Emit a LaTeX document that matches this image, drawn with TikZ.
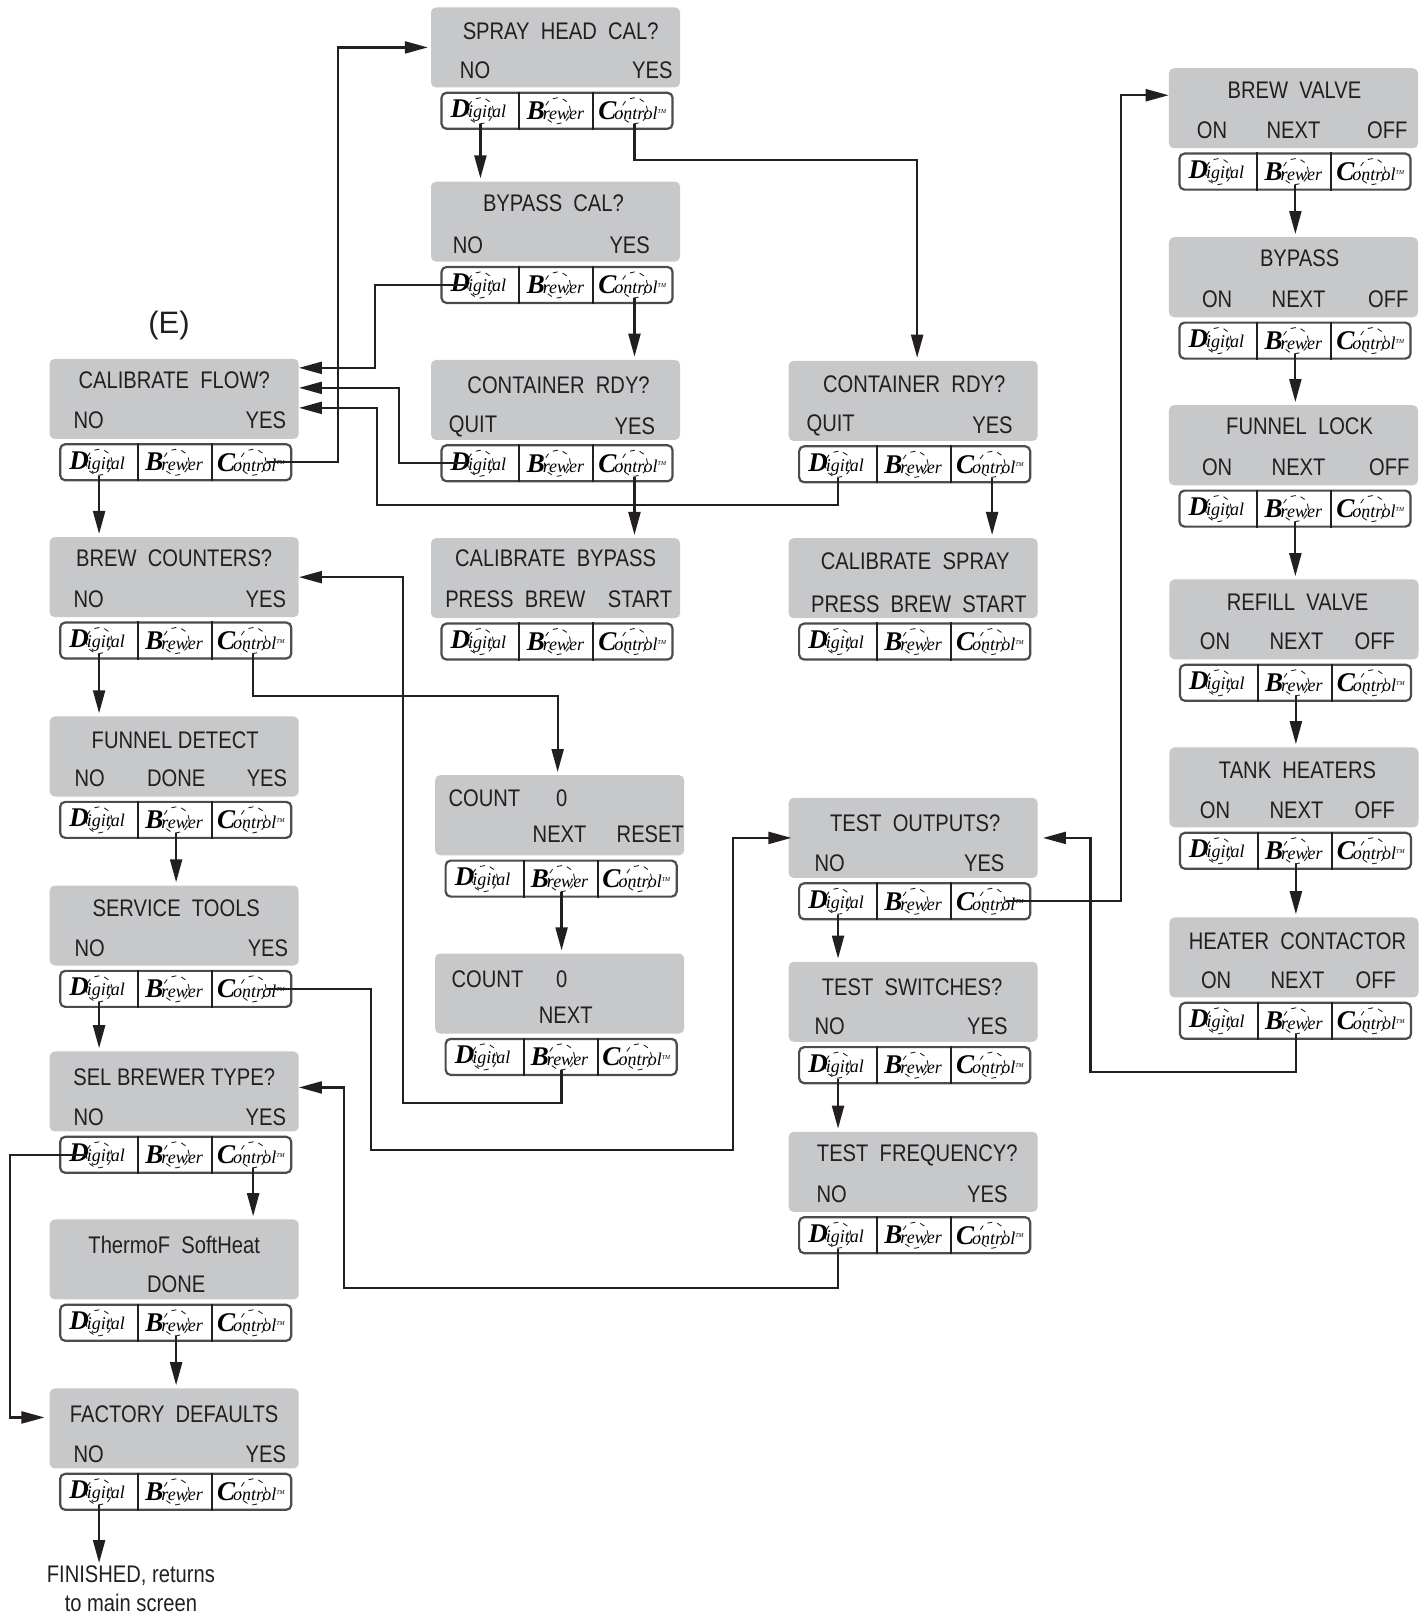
\documentclass[tikz,border=0pt]{standalone}
\usepackage{fontspec}
\usetikzlibrary{arrows.meta}
\setmainfont{Liberation Sans}
\newfontfamily\lcdfont[FakeStretch=0.84]{Liberation Sans}
\newfontfamily\logofont{Liberation Serif}
\definecolor{lcdgrey}{HTML}{C7C8CA}
\definecolor{inkgrey}{HTML}{231F20}
\newcommand{\logotext}[2]{\makebox[0pt]{\raisebox{-2pt}{\logofont\itshape{\fontsize{27}{27}\selectfont\bfseries #1}\kern-2pt{\fontsize{18}{18}\selectfont #2}\kern4pt}}}
\tikzset{
  lcd/.style={fill=lcdgrey,rounded corners=5pt,minimum width=249pt,minimum height=80pt,anchor=north west,inner sep=0pt},
  pad/.style={draw=black!70,line width=2.2pt,rounded corners=5pt,fill=white,minimum width=231pt,minimum height=36pt,inner sep=0pt},
  padline/.style={draw=inkgrey,line width=2pt},
  button/.style={circle,draw=inkgrey,line width=.9pt,dash pattern=on 5pt off 5pt,minimum size=26pt,inner sep=0pt},
  lcdtext/.style={text=inkgrey,font=\lcdfont\fontsize{24}{24}\selectfont,inner sep=0pt},
  flow/.style={draw=inkgrey,line width=2.2pt,-{Triangle[length=23pt,width=12pt]},shorten >=3pt},
  sideflow/.style={flow,shorten >=0pt}
}
\begin{document}
\begin{tikzpicture}[x=1.0303pt,y=-1.0303pt]
\useasboundingbox (0,0) rectangle (1384,1568);

% panels
\foreach \nm/\x/\y in {spray/418/7,bypass/418/176,contone/418/349,calbypass/418/522,
  calflow/48/348,counters/48/521,funnel/48/695,tools/48/859,brewer/48/1020,thermo/48/1183,factory/48/1347,
  conttwo/765/350,calspray/765/522,countone/422/752,counttwo/422/925,
  outputs/765/774,switches/765/933,freq/765/1098,
  brewvalve/1134/66,bypassout/1134/230,funnellock/1134/393,refill/1134.5/562,heaters/1134.5/725,contactor/1134.5/890} {
\node[lcd] (\nm) at (\x,\y) {};
\node[pad] (\nm-pad) at (\x+122.5,\y+100.5) {};
\draw[padline] ([xshift=79pt]\nm-pad.north west) -- ([xshift=79pt]\nm-pad.south west);
\draw[padline] ([xshift=153pt]\nm-pad.north west) -- ([xshift=153pt]\nm-pad.south west);
\node[button] (\nm-d) at ([xshift=40pt]\nm-pad.west) {\logotext{D}{igital}};
\node[button] (\nm-b) at ([xshift=117pt]\nm-pad.west) {\logotext{B}{rewer}};
\node[button] (\nm-c) at ([xshift=194pt]\nm-pad.west) {\logotext{C}{ontrol\textsuperscript{\fontsize{6}{6}\selectfont TM}}};
}

% display text
\foreach \nm/\x/\y/\txt in {
  spray-t/544/30/SPRAY\ \ HEAD\ \ CAL?,spray-n/461/68/NO,spray-y/633/68/YES,
  bypass-t/537/197/BYPASS\ \ CAL?,bypass-n/454/238/NO,bypass-y/611/238/YES,
  contone-t/542/374/CONTAINER\ \ RDY?,contone-n/459/414/QUIT,contone-y/616/414/YES,
  calbypass-t/539/542/CALIBRATE\ \ BYPASS,calbypass-n/500/581/PRESS\ \ BREW,calbypass-y/621/581/START,
  calflow-t/169/369/CALIBRATE\ \ FLOW?,calflow-n/86/408/NO,calflow-y/258/408/YES,
  counters-t/169/542/BREW\ \ COUNTERS?,counters-n/86/581/NO,counters-y/258/581/YES,
  funnel-t/170/718/FUNNEL DETECT,funnel-n/87/755/NO,funnel-m/171/755/DONE,funnel-y/259/755/YES,
  tools-t/171/881/SERVICE\ \ TOOLS,tools-n/87/920/NO,tools-y/260/920/YES,
  brewer-t/169/1045/SEL BREWER TYPE?,brewer-n/86/1084/NO,brewer-y/258/1084/YES,
  thermo-t/169/1208/ThermoF\ \ SoftHeat,thermo-m/171/1246/DONE,
  factory-t/169/1372/FACTORY\ \ DEFAULTS,factory-n/86/1411/NO,factory-y/258/1411/YES,
  conttwo-t/887/373/CONTAINER\ \ RDY?,conttwo-n/806/413/QUIT,conttwo-y/963/413/YES,
  calspray-t/888/545/CALIBRATE\ \ SPRAY,calspray-n/855/586/PRESS\ \ BREW,calspray-y/965/586/START,
  countone-t/470/775/COUNT,countone-z/545/775/0,countone-m/543/809/NEXT,countone-y/631/809/RESET,
  counttwo-t/473/950/COUNT,counttwo-z/545/950/0,counttwo-m/549/985/NEXT,
  outputs-t/888/799/TEST\ \ OUTPUTS?,outputs-n/805/838/NO,outputs-y/955/838/YES,
  switches-t/885/958/TEST\ \ SWITCHES?,switches-n/805/996/NO,switches-y/958/996/YES,
  freq-t/890/1121/TEST\ \ FREQUENCY?,freq-n/807/1159/NO,freq-y/958/1159/YES,
  brewvalve-t/1256/88/BREW\ \ VALVE,brewvalve-n/1176/126/ON,brewvalve-m/1255/126/NEXT,brewvalve-y/1346/126/OFF,
  bypassout-t/1261/251/BYPASS,bypassout-n/1181/290/ON,bypassout-m/1260/290/NEXT,bypassout-y/1347/290/OFF,
  funnellock-t/1261/414/FUNNEL\ \ LOCK,funnellock-n/1181/453/ON,funnellock-m/1260/453/NEXT,funnellock-y/1348/453/OFF,
  refill-t/1259/584/REFILL\ \ VALVE,refill-n/1179/622/ON,refill-m/1258/622/NEXT,refill-y/1334/622/OFF,
  heaters-t/1259/747/TANK\ \ HEATERS,heaters-n/1179/786/ON,heaters-m/1258/786/NEXT,heaters-y/1334/786/OFF,
  contactor-t/1259/913/HEATER\ \ CONTACTOR,contactor-n/1180/951/ON,contactor-m/1259/951/NEXT,contactor-y/1335/951/OFF} {
\node[lcdtext] (\nm) at (\x,\y) {\txt};
}
\node[text=inkgrey,font=\fontsize{31}{31}\selectfont,inner sep=0pt] (mark) at (164,316) {(E)};
\node[lcdtext,align=center,font=\lcdfont\fontsize{24}{29}\selectfont] (finished) at (127,1542) {FINISHED, returns\\to main screen};

% rails
\coordinate (rail-a) at (328,200);
\coordinate (rail-b) at (364,300);
\coordinate (rail-c) at (387,400);
\coordinate (rail-d) at (366,490);
\coordinate (rail-f) at (400,675);
\coordinate (rail-g) at (391,1070);
\coordinate (rail-h) at (360,1000);
\coordinate (rail-i) at (711,1116);
\coordinate (rail-j) at (10,1200);
\coordinate (rail-k) at (334,1250);
\coordinate (rail-l) at (1088,500);
\coordinate (rail-m) at (1058,1040);
\coordinate (rail-n) at (700,155);

% straight arrows
\foreach \a/\b in {spray-d/bypass,bypass-c/contone,contone-c/calbypass,conttwo-c/calspray,
  calflow-d/counters,counters-d/funnel,funnel-b/tools,tools-d/brewer,brewer-c/thermo,thermo-b/factory,
  countone-b/counttwo,outputs-d/switches,switches-d/freq,
  brewvalve-b/bypassout,bypassout-b/funnellock,funnellock-b/refill,refill-b/heaters,heaters-b/contactor,factory-d/finished} {
\draw[flow] (\a.south) -- (\a.south |- \b.north);
}

% long arrows
\draw[flow] (spray-c.south) |- (rail-n) -| ([xshift=4pt]conttwo.north);
\draw[sideflow] (calflow-c.east) -| (rail-a) |- ([xshift=-3pt]spray.west);
\draw[sideflow] (bypass-d.west) -| (rail-b) |- ([yshift=31pt]calflow.east);
\draw[sideflow] (contone-d.west) -| (rail-c) |- ([yshift=11pt]calflow.east);
\draw[sideflow] (conttwo-d.south) |- (rail-d) |- ([yshift=-9pt]calflow.east);
\draw[flow] (counters-c.south) |- (rail-f) -| ([xshift=-2pt]countone.north);
\draw[sideflow] (counttwo-b.south) |- (rail-g) |- (counters.east);
\draw[sideflow] (tools-c.east) -| (rail-h) |- (rail-i) |- ([xshift=3pt]outputs.west);
\draw[sideflow] (brewer-d.west) -| (rail-j) |- ([xshift=-5pt,yshift=11pt]factory.west);
\draw[sideflow] (freq-d.south) |- (rail-k) |- ([yshift=4pt]brewer.east);
\draw[sideflow] (outputs-c.east) -| (rail-l) |- ([yshift=13pt]brewvalve.west);
\draw[sideflow] (contactor-b.south) |- (rail-m) |- ([xshift=5pt]outputs.east);
\end{tikzpicture}
\end{document}
